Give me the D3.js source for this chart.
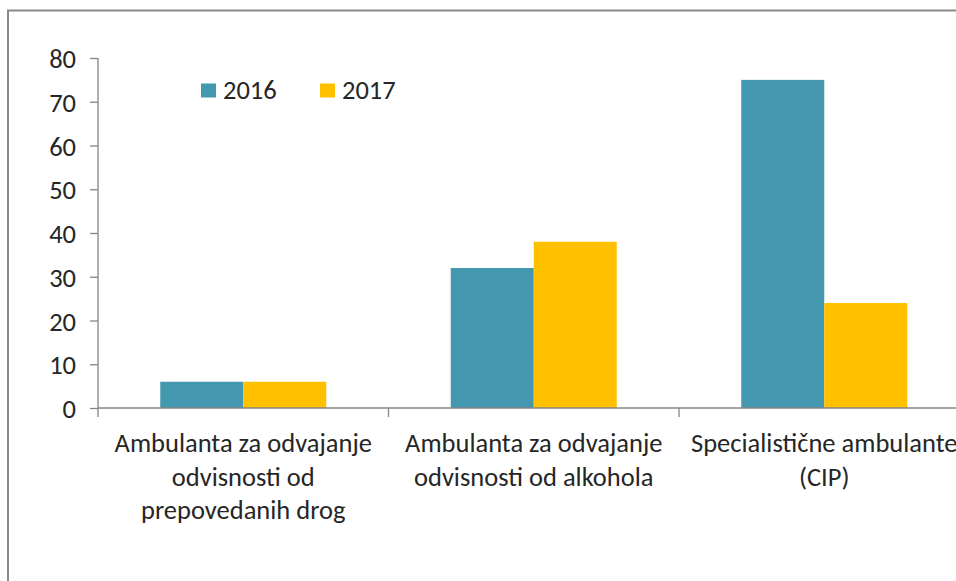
<!DOCTYPE html>
<html>
<head>
<meta charset="utf-8">
<script src="https://cdn.jsdelivr.net/npm/d3@7"></script>
<style>
  body { margin: 0; background: #fff; overflow: hidden; }
  text { font-family: Carlito, Lato, "Open Sans", sans-serif; fill: #262626; }
</style>
</head>
<body>
<div id="chart"></div>
<script>
// categories (each label split into its wrapped lines)
let categories = [
  ["Ambulanta za odvajanje", "odvisnosti od", "prepovedanih drog"],
  ["Ambulanta za odvajanje", "odvisnosti od alkohola"],
  ["Specialistične ambulante", "(CIP)"]
];
let years = ["2016", "2017"];
let values2016 = [6, 32, 75];
let values2017 = [6, 38, 24];
let yTicks = [0, 10, 20, 30, 40, 50, 60, 70, 80];

let colors = ["#4398b0", "#ffc000"];

let width = 956;
let height = 581;
let fontSize = "26.5px";

let svg = d3.select("#chart")
  .append("svg")
  .attr("width", width).attr("height", height);

// outer frame of the chart area
svg.append("path")
  .attr("d", "M8,581 V10.5 H956")
  .attr("fill", "none")
  .attr("stroke", "#8a8a8a")
  .attr("stroke-width", 2);

let xScale = d3.scaleBand()
  .domain(d3.range(categories.length))
  .range([98, 969.5])
  .paddingInner(0).paddingOuter(0);

let inner = d3.scaleBand()
  .domain(years)
  .range([0, xScale.bandwidth()])
  .paddingOuter(0.75);

let yScale = d3.scaleLinear()
  .domain([0, 80])
  .range([408, 58]);

// y axis
let yAxis = svg.append("g")
  .attr("transform", "translate(98,0)")
  .call(d3.axisLeft(yScale).tickValues(yTicks).tickSize(8).tickPadding(14));
yAxis.selectAll("line, path").attr("stroke", "#868686").attr("stroke-width", 1.3);
yAxis.select(".domain").attr("d", "M0,58V408");
yAxis.selectAll("text").style("font-size", fontSize).attr("fill", "#262626").attr("dy", "0.36em");

// bars
let series = [values2016, values2017];
series.forEach(function(vals, si) {
  svg.append("g")
    .selectAll("rect")
    .data(vals).enter()
    .append("rect")
    .attr("x", function(d, i) { return xScale(i) + inner(years[si]); })
    .attr("y", function(d) { return yScale(d); })
    .attr("width", inner.bandwidth())
    .attr("height", function(d) { return yScale(0) - yScale(d); })
    .attr("fill", colors[si]);
});

// x axis line and category ticks
let xAxis = svg.append("g");
xAxis.append("line")
  .attr("x1", 98).attr("x2", 956)
  .attr("y1", yScale(0)).attr("y2", yScale(0))
  .attr("stroke", "#868686").attr("stroke-width", 1.3);
xAxis.selectAll(".tick")
  .data(d3.range(categories.length)).enter()
  .append("line")
  .attr("x1", function(d) { return xScale(d); })
  .attr("x2", function(d) { return xScale(d); })
  .attr("y1", yScale(0)).attr("y2", yScale(0) + 9)
  .attr("stroke", "#868686").attr("stroke-width", 1.3);

// category labels
categories.forEach(function(lines, i) {
  let t = svg.append("text")
    .attr("text-anchor", "middle")
    .style("font-size", fontSize);
  lines.forEach(function(line, j) {
    t.append("tspan")
      .attr("x", xScale(i) + xScale.bandwidth() / 2)
      .attr("y", 452 + j * 33.5)
      .text(line);
  });
});

// legend
let legend = svg.append("g");
let legendX = [201, 320];
years.forEach(function(y, i) {
  legend.append("rect")
    .attr("x", legendX[i]).attr("y", 83.5)
    .attr("width", 15).attr("height", 14)
    .attr("fill", colors[i]);
  legend.append("text")
    .attr("x", legendX[i] + 22).attr("y", 99)
    .style("font-size", fontSize)
    .text(y);
});
</script>
</body>
</html>
